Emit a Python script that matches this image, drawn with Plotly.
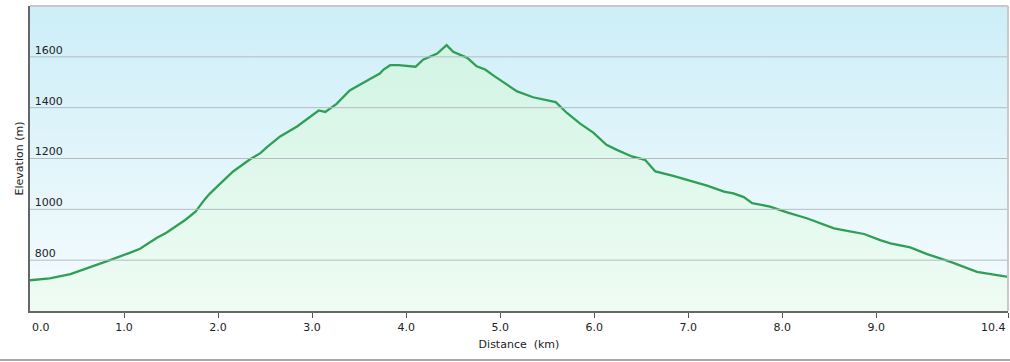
import plotly.graph_objects as go

distance_km = [0.00, 0.21, 0.43, 0.64, 0.85, 1.06, 1.17, 1.35, 1.45, 1.65, 1.76, 1.86, 1.91,
               2.02, 2.16, 2.34, 2.45, 2.52, 2.66, 2.84, 2.94, 3.07, 3.14, 3.26, 3.40, 3.55,
               3.62, 3.72, 3.76, 3.83, 3.92, 4.10, 4.18, 4.33, 4.43, 4.50, 4.65, 4.75, 4.84,
               4.93, 5.18, 5.35, 5.43, 5.53, 5.59, 5.71, 5.85, 5.99, 6.13, 6.24, 6.40, 6.54,
               6.65, 6.84, 7.06, 7.20, 7.38, 7.48, 7.59, 7.68, 7.87, 8.05, 8.26, 8.55, 8.69,
               8.87, 9.04, 9.15, 9.36, 9.54, 9.79, 10.07, 10.40]
elevation_m = [721, 728, 745, 771, 800, 829, 845, 888, 908, 958, 991, 1040, 1061,
               1100, 1149, 1197, 1221, 1245, 1287, 1326, 1353, 1389, 1383, 1415, 1468, 1501,
               1514, 1534, 1550, 1567, 1567, 1561, 1589, 1613, 1646, 1620, 1596, 1563, 1550,
               1526, 1464, 1441, 1435, 1429, 1422, 1379, 1337, 1302, 1254, 1234, 1208, 1195,
               1149, 1132, 1109, 1093, 1070, 1063, 1048, 1024, 1011, 988, 965, 925, 915,
               903, 879, 866, 850, 824, 793, 754, 734]

x_tick_vals = [0, 1, 2, 3, 4, 5, 6, 7, 8, 9, 10.4]
x_tick_text = ["0.0", "1.0", "2.0", "3.0", "4.0", "5.0", "6.0", "7.0", "8.0", "9.0", "10.4"]
y_tick_vals = [800, 1000, 1200, 1400, 1600]
x_range = [0, 10.4]
y_range = [600, 1800]

FONT = "DejaVu Sans"

fig = go.Figure()

# sky background gradient
fig.add_trace(go.Scatter(
    x=x_range, y=[y_range[1], y_range[1]], mode="lines", line=dict(width=0),
    fill="tozeroy",
    fillgradient=dict(type="vertical", start=y_range[0], stop=y_range[1],
                      colorscale=[[0, "#f6fcfe"], [1, "#cdeef8"]]),
    hoverinfo="skip", showlegend=False))

# elevation profile
fig.add_trace(go.Scatter(
    x=distance_km, y=elevation_m, mode="lines",
    line=dict(color="#2f9f55", width=2.3),
    fill="tozeroy",
    fillgradient=dict(type="vertical", start=y_range[0], stop=1650,
                      colorscale=[[0, "#effcf3"], [1, "#d2f4e4"]]),
    showlegend=False))

# horizontal gridlines drawn over the gradient fills
for v in y_tick_vals:
    fig.add_shape(type="line", xref="paper", yref="y", x0=0, x1=1, y0=v, y1=v,
                  line=dict(color="#b4bcc2", width=1), layer="above")

# edge tick labels aligned to the ends
fig.add_annotation(x=x_tick_vals[0], y=0, xref="x", yref="paper", yanchor="top", xanchor="left",
                   yshift=-8, text=x_tick_text[0], showarrow=False,
                   font=dict(family=FONT, size=11, color="#222"))
fig.add_annotation(x=x_tick_vals[-1], y=0, xref="x", yref="paper", yanchor="top", xanchor="right",
                   yshift=-8, text=x_tick_text[-1], showarrow=False,
                   font=dict(family=FONT, size=11, color="#222"))

mid_text = [""] + x_tick_text[1:-1] + [""]

fig.update_xaxes(range=x_range, tickvals=x_tick_vals, ticktext=mid_text,
                 ticks="outside", ticklen=5, tickcolor="#555", tickwidth=1,
                 showline=True, linecolor="#666", linewidth=2,
                 showgrid=False, zeroline=False,
                 tickfont=dict(family=FONT, size=11, color="#222"),
                 title=dict(text="Distance\u00a0 (km)", font=dict(family=FONT, size=11, color="#222"),
                            standoff=7))
fig.update_yaxes(range=y_range, tickvals=y_tick_vals, ticktext=[str(v) for v in y_tick_vals],
                 ticklabelposition="inside", ticklabelshift=-7, ticklabelstandoff=4,
                 ticks="", showline=True, linecolor="#666", linewidth=2,
                 showgrid=False, zeroline=False,
                 tickfont=dict(family=FONT, size=11, color="#222"),
                 title=dict(text="Elevation (m)", font=dict(family=FONT, size=11, color="#222"),
                            standoff=9))

# light frame on top and right, and bottom separator line
fig.add_shape(type="line", xref="paper", yref="paper", x0=0, x1=1, y0=1, y1=1,
              line=dict(color="#c8c8c8", width=2))
fig.add_shape(type="line", xref="paper", yref="paper", x0=1, x1=1, y0=0, y1=1,
              line=dict(color="#c8c8c8", width=2))
fig.add_shape(type="line", xref="paper", yref="paper", x0=-30 / 978, x1=1 + 2 / 978,
              y0=-49 / 305, y1=-49 / 305, line=dict(color="#a8a8a8", width=2))

fig.update_layout(width=1010, height=362,
                  margin=dict(l=30, r=2, t=6, b=51, autoexpand=False),
                  paper_bgcolor="white", plot_bgcolor="white")

fig.write_html("out.html", config={"displayModeBar": False},
               post_script="document.body.style.margin='0';")
